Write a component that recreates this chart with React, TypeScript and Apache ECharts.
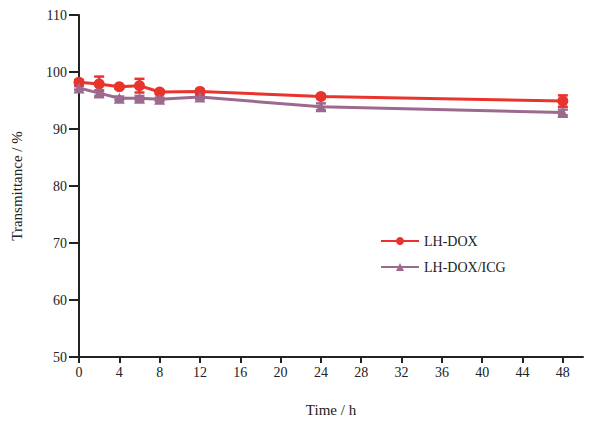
import React, { useEffect, useRef } from "react";
import * as echarts from "echarts";

const times = [0, 2, 4, 6, 8, 12, 24, 48];
const lhDox = [98.2, 97.9, 97.4, 97.6, 96.5, 96.6, 95.7, 94.9];
const lhDoxErr = [0.4, 1.3, 0.3, 1.2, 0.3, 0.3, 0.3, 1.0];
const lhDoxIcg = [97.2, 96.3, 95.4, 95.4, 95.2, 95.6, 93.9, 92.9];
const lhDoxIcgErr = [0.3, 0.5, 0.3, 0.4, 0.3, 0.3, 0.6, 0.5];
const xTicks = [0, 4, 8, 12, 16, 20, 24, 28, 32, 36, 40, 44, 48];

const RED = "#e8342c";
const PURPLE = "#9c6a8e";
const FONT = "'Liberation Serif', 'Times New Roman', serif";

function errData(vals: number[], errs: number[]) {
  return times.map((t, i) => [t, vals[i] - errs[i], vals[i] + errs[i]]);
}

function errSeries(name: string, vals: number[], errs: number[], color: string) {
  return {
    type: "custom",
    name: name + "-err",
    data: errData(vals, errs),
    z: 3,
    silent: true,
    renderItem: (params: any, api: any) => {
      const x = api.value(0);
      const lo = api.coord([x, api.value(1)]);
      const hi = api.coord([x, api.value(2)]);
      const w = 5;
      const style = { stroke: color, lineWidth: 2.5 };
      return {
        type: "group",
        children: [
          { type: "line", shape: { x1: lo[0], y1: lo[1], x2: hi[0], y2: hi[1] }, style },
          { type: "line", shape: { x1: lo[0] - w, y1: lo[1], x2: lo[0] + w, y2: lo[1] }, style },
          { type: "line", shape: { x1: hi[0] - w, y1: hi[1], x2: hi[0] + w, y2: hi[1] }, style },
        ],
      };
    },
  };
}

export default function App() {
  const ref = useRef<HTMLDivElement>(null);
  useEffect(() => {
    const chart = echarts.init(ref.current!, null, { renderer: "svg" });
    chart.setOption({
      animation: false,
      backgroundColor: "#ffffff",
      grid: { left: 79, right: 10, top: 15, bottom: 66, containLabel: false },
      legend: {
        orient: "vertical",
        left: 375,
        top: 229,
        itemWidth: 38,
        itemHeight: 10,
        itemGap: 12,
        data: ["LH-DOX", "LH-DOX/ICG"],
        textStyle: { fontFamily: FONT, fontSize: 14, color: "#222" },
      },
      xAxis: {
        type: "value",
        min: 0,
        max: 50,
        name: "Time / h",
        nameLocation: "middle",
        nameGap: 45,
        nameTextStyle: { fontFamily: FONT, fontSize: 15, color: "#222" },
        axisLine: { show: true, lineStyle: { color: "#222", width: 2 } },
        axisTick: { show: true, customValues: xTicks, length: 6, lineStyle: { color: "#222", width: 2 } },
        axisLabel: { customValues: xTicks, fontFamily: FONT, fontSize: 14, color: "#222", margin: 8 },
        splitLine: { show: false },
      },
      yAxis: {
        type: "value",
        min: 50,
        max: 110,
        interval: 10,
        name: "Transmittance / %",
        nameLocation: "middle",
        nameGap: 55,
        nameTextStyle: { fontFamily: FONT, fontSize: 15, color: "#222" },
        axisLine: { show: true, lineStyle: { color: "#222", width: 2 } },
        axisTick: { show: true, inside: false, length: 10, lineStyle: { color: "#222", width: 2 } },
        axisLabel: { fontFamily: FONT, fontSize: 14, color: "#222", margin: 12 },
        splitLine: { show: false },
      },
      series: [
        {
          type: "line",
          name: "LH-DOX",
          data: times.map((t, i) => [t, lhDox[i]]),
          color: RED,
          symbol: "circle",
          symbolSize: 11,
          lineStyle: { color: RED, width: 3 },
          itemStyle: { color: RED },
          z: 4,
        },
        {
          type: "line",
          name: "LH-DOX/ICG",
          data: times.map((t, i) => [t, lhDoxIcg[i]]),
          color: PURPLE,
          symbol: "triangle",
          symbolSize: 11,
          lineStyle: { color: PURPLE, width: 3 },
          itemStyle: { color: PURPLE },
          z: 4,
        },
        errSeries("LH-DOX", lhDox, lhDoxErr, RED),
        errSeries("LH-DOX/ICG", lhDoxIcg, lhDoxIcgErr, PURPLE),
      ],
    });
    return () => chart.dispose();
  }, []);
  return (
    <div
      ref={ref}
      style={{ position: "fixed", left: 0, top: 0, width: 593, height: 423 }}
    />
  );
}
